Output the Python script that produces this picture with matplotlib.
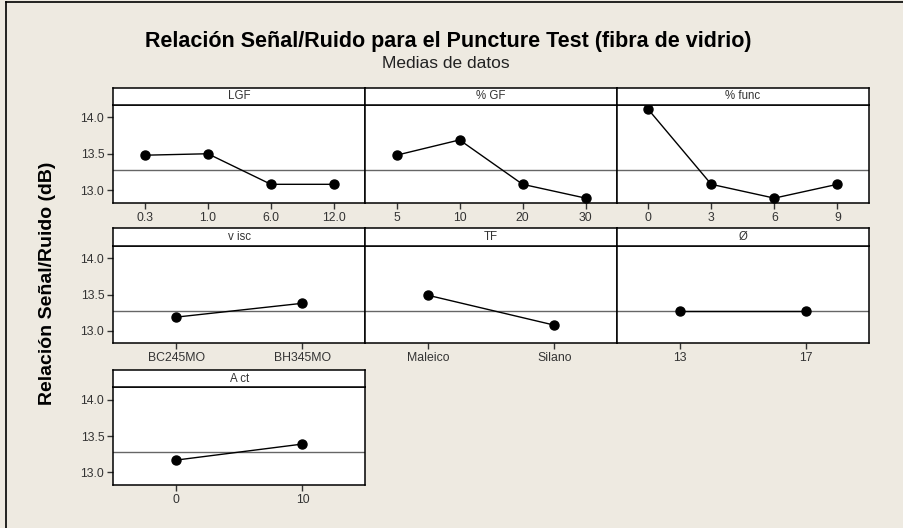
import matplotlib.pyplot as plt
from matplotlib.lines import Line2D

# niveles de cada factor y medias de la relacion S/R (dB)
lgf_levels = ["0.3", "1.0", "6.0", "12.0"]
lgf_sn = [13.48, 13.50, 13.08, 13.08]
gf_levels = ["5", "10", "20", "30"]
gf_sn = [13.48, 13.69, 13.08, 12.89]
func_levels = ["0", "3", "6", "9"]
func_sn = [14.11, 13.08, 12.89, 13.08]
visc_levels = ["BC245MO", "BH345MO"]
visc_sn = [13.19, 13.38]
tf_levels = ["Maleico", "Silano"]
tf_sn = [13.49, 13.08]
diam_levels = ["13", "17"]
diam_sn = [13.28, 13.28]
act_levels = ["0", "10"]
act_sn = [13.17, 13.39]

factor_names = ["LGF", "% GF", "% func", "v isc", "TF", "Ø", "A ct"]
grand_mean = 13.28
y_ticks = [13.0, 13.5, 14.0]
y_ticklabels = ["13.0", "13.5", "14.0"]

levels = [lgf_levels, gf_levels, func_levels, visc_levels, tf_levels, diam_levels, act_levels]
means = [lgf_sn, gf_sn, func_sn, visc_sn, tf_sn, diam_sn, act_sn]

W, H = 904, 528
BG = "#EEEAE1"
TXT = "#333333"

plt.rcParams["font.family"] = ["Liberation Sans", "DejaVu Sans"]

fig = plt.figure(figsize=(W / 100, H / 100), dpi=100, facecolor=BG)


def rect(x0, y0, w, h):
    # pixel box (top-left origin) -> figure fraction
    return [x0 / W, 1 - (y0 + h) / H, w / W, h / H]


col_left = [113.3, 365.0, 616.7]
col_w = 252.2
row_top = [105.0, 245.8, 387.3]
ax_h = 97.5
strip_h = 17.5

for i, (name, lv, mv) in enumerate(zip(factor_names, levels, means)):
    r, c = divmod(i, 3)
    x0, y0 = col_left[c], row_top[r]

    ax = fig.add_axes(rect(x0, y0, col_w, ax_h))
    ax.set_facecolor("white")
    xs = list(range(len(lv)))
    ax.axhline(grand_mean, color="#666666", lw=1.0, zorder=1)
    ax.plot(xs, mv, color="black", lw=1.0, marker="o", markersize=6.5, zorder=3)
    ax.set_xlim(-0.5, len(lv) - 0.5)
    ax.set_ylim(12.83, 14.17)
    ax.set_xticks(xs)
    ax.set_xticklabels(lv, fontsize=8.8, color=TXT)
    if c == 0:
        ax.set_yticks(y_ticks)
        ax.set_yticklabels(y_ticklabels, fontsize=8.8, color=TXT)
    else:
        ax.set_yticks([])
    ax.tick_params(direction="out", length=4.5, width=1.0, color="#333333", pad=2)
    for s in ax.spines.values():
        s.set_linewidth(1.1)

    st = fig.add_axes(rect(x0, y0 - strip_h, col_w, strip_h))
    st.set_facecolor("white")
    st.set_xticks([])
    st.set_yticks([])
    for s in st.spines.values():
        s.set_linewidth(1.1)
    st.text(0.5, 0.5, name, ha="center", va="center", fontsize=8.3, color=TXT,
            transform=st.transAxes)

fig.text(448 / W, 1 - 46.5 / H, "Relación Señal/Ruido para el Puncture Test (fibra de vidrio)",
         ha="center", va="baseline", fontsize=15.5, fontweight="bold", color="black")
fig.text(446 / W, 1 - 67.5 / H, "Medias de datos", ha="center", va="baseline",
         fontsize=12.5, color="#222222")
fig.text(48 / W, 1 - 283 / H, "Relación Señal/Ruido (dB)", rotation=90, ha="center",
         va="center", fontsize=14, fontweight="bold", color="black")

# borde parcial de la ventana (arriba e izquierda)
fig.add_artist(Line2D([6.5 / W, 6.5 / W], [0, 1 - 1.5 / H], color="black", lw=1.2,
                      transform=fig.transFigure))
fig.add_artist(Line2D([6.5 / W, 1], [1 - 1.5 / H, 1 - 1.5 / H], color="black", lw=1.2,
                      transform=fig.transFigure))

fig.savefig("out.png", dpi=100, facecolor=BG)
